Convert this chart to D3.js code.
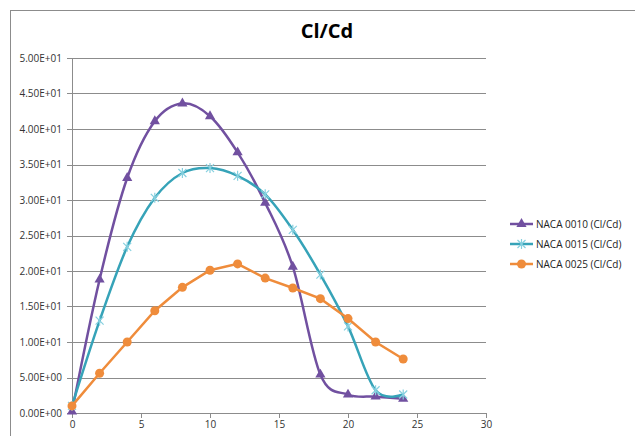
<!DOCTYPE html>
<html>
<head>
<meta charset="utf-8">
<script src="https://cdn.jsdelivr.net/npm/d3@7"></script>
<style>
  body { margin: 0; background: #fff; }
  text { font-family: "Open Sans", "Liberation Sans", sans-serif; }
</style>
</head>
<body>
<div id="viz"></div>
<script>
// angle of attack (x) and Cl/Cd for each airfoil
var alpha = [0, 2, 4, 6, 8, 10, 12, 14, 16, 18, 20, 22, 24];
var naca0010 = [0.2, 18.8, 33.1, 41.1, 43.6, 41.8, 36.7, 29.6, 20.6, 5.4, 2.6, 2.3, 2.0];
var naca0015 = [1.0, 13.0, 23.4, 30.3, 33.8, 34.5, 33.4, 30.8, 25.8, 19.5, 12.2, 3.2, 2.6];
var naca0025 = [1.0, 5.6, 10.0, 14.4, 17.7, 20.1, 21.0, 19.0, 17.6, 16.1, 13.3, 10.0, 7.6];
var seriesNames = ["NACA 0010 (Cl/Cd)", "NACA 0015 (Cl/Cd)", "NACA 0025 (Cl/Cd)"];
var xTicks = [0, 5, 10, 15, 20, 25, 30];
var yTicks = [0, 5, 10, 15, 20, 25, 30, 35, 40, 45, 50];

var W = 635, H = 436;
var margin = { top: 58, left: 72 },
  width = 486 - 72,
  height = 413 - 58;

var svg = d3.select("#viz").append("svg")
  .attr("width", W)
  .attr("height", H);

// chart frame
svg.append("rect")
  .attr("x", 10.5).attr("y", 10.5)
  .attr("width", 700).attr("height", 500)
  .attr("fill", "none").attr("stroke", "#8c8c8c");

svg.append("text")
  .attr("x", 327).attr("y", 38)
  .attr("text-anchor", "middle")
  .style("font-size", "20px")
  .style("font-weight", "bold")
  .text("Cl/Cd");

var g = svg.append("g")
  .attr("transform", "translate(" + margin.left + "," + margin.top + ")");

var x = d3.scaleLinear().domain([0, 30]).range([0, width]);
var y = d3.scaleLinear().domain([0, 50]).range([height, 0]);

// gridlines
g.selectAll(".grid")
  .data(yTicks)
  .enter().append("line")
  .attr("x1", -5).attr("x2", width)
  .attr("y1", d => Math.round(y(d)) + 0.5)
  .attr("y2", d => Math.round(y(d)) + 0.5)
  .attr("stroke", "#8c8c8c");

var yAxis = d3.axisLeft(y).tickValues(yTicks).tickSize(0).tickPadding(10)
  .tickFormat(d => d.toExponential(2).replace("e", "E").replace(/E([+-])(\d)$/, "E$10$2"));
var xAxis = d3.axisBottom(x).tickValues(xTicks).tickSize(5).tickPadding(3);

var ya = g.append("g").call(yAxis);
ya.select(".domain").attr("stroke", "#8c8c8c");
ya.selectAll("text").style("font-size", "10px").attr("fill", "#333");

var xa = g.append("g").attr("transform", "translate(0," + height + ")").call(xAxis);
xa.select(".domain").remove();
xa.selectAll("line").attr("stroke", "#8c8c8c");
xa.selectAll("text").style("font-size", "10px").attr("fill", "#333");

var smooth = d3.curveCatmullRom.alpha(0);
var series = [
  { name: seriesNames[0], values: naca0010, color: "#7150a0", marker: "triangle", curve: smooth },
  { name: seriesNames[1], values: naca0015, color: "#36a3b8", marker: "star", curve: smooth },
  { name: seriesNames[2], values: naca0025, color: "#ef8c3b", marker: "circle", curve: d3.curveLinear }
];

function drawMarker(sel, s) {
  if (s.marker === "triangle") {
    sel.append("path")
      .attr("d", d3.symbol().type(d3.symbolTriangle).size(45))
      .attr("fill", s.color);
  } else if (s.marker === "circle") {
    sel.append("circle").attr("r", 4.5).attr("fill", s.color);
  } else {
    sel.append("path")
      .attr("d", "M-4,-4L4,4M-4,4L4,-4M0,-5L0,5")
      .attr("stroke", "#86d0df").attr("stroke-width", 1.2).attr("fill", "none");
  }
}

series.forEach(s => {
  var line = d3.line()
    .x((d, i) => x(alpha[i]))
    .y(d => y(d))
    .curve(s.curve);
  g.append("path")
    .datum(s.values)
    .attr("d", line)
    .attr("fill", "none")
    .attr("stroke", s.color)
    .attr("stroke-width", 2.5);
  g.selectAll(null)
    .data(s.values)
    .enter().append("g")
    .attr("transform", (d, i) => "translate(" + x(alpha[i]) + "," + y(d) + ")")
    .each(function () { drawMarker(d3.select(this), s); });
});

// legend
var legend = svg.append("g").attr("transform", "translate(510,224)");
series.forEach((s, i) => {
  var row = legend.append("g").attr("transform", "translate(0," + i * 20 + ")");
  row.append("line").attr("x1", 0).attr("x2", 23)
    .attr("stroke", s.color).attr("stroke-width", 2.5);
  drawMarker(row.append("g").attr("transform", "translate(11.5,0)"), s);
  row.append("text").attr("x", 26).attr("y", 3.5)
    .style("font-size", "10px").attr("fill", "#222")
    .text(s.name);
});
</script>
</body>
</html>
